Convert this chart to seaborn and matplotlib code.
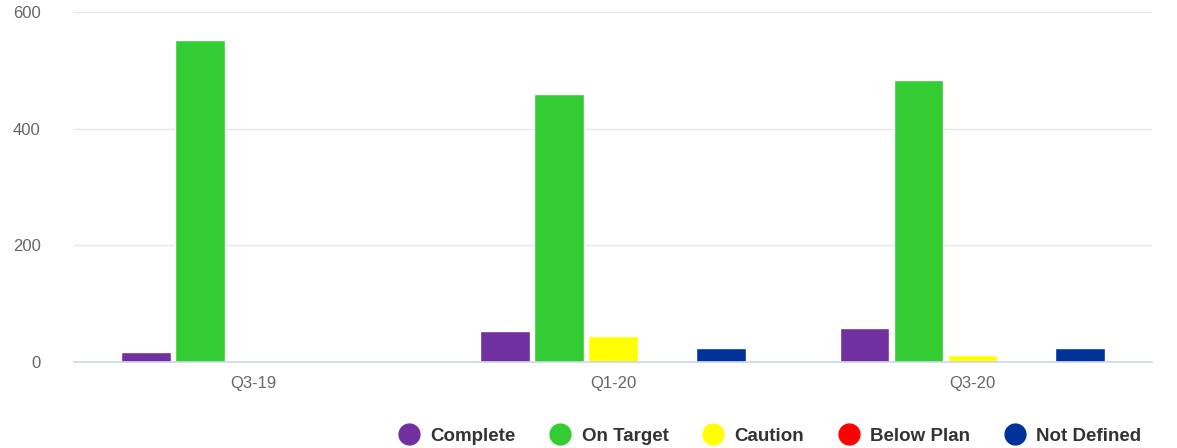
import pandas as pd
import seaborn as sns
import matplotlib.pyplot as plt

# chart values
quarters = ["Q3-19", "Q1-20", "Q3-20"]
statuses = ["Complete", "On Target", "Caution", "Below Plan", "Not Defined"]
complete = [17, 53, 58]
on_target = [552, 459, 483]
caution = [0, 45, 12]
below_plan = [0, 0, 0]
not_defined = [0, 24, 24]
colors = ["#7030a0", "#33cc33", "#ffff00", "#ff0000", "#003399"]

series = [complete, on_target, caution, below_plan, not_defined]
rows = []
for status, vals in zip(statuses, series):
    for q, v in zip(quarters, vals):
        rows.append({"quarter": q, "status": status, "value": v})
df = pd.DataFrame(rows)

sns.set_style("white")
plt.rcParams["font.family"] = ["Liberation Sans", "DejaVu Sans"]

fig = plt.figure(figsize=(11.77, 4.48), dpi=100)
ax = fig.add_axes([74 / 1177, 1 - 362 / 448, (1152 - 74) / 1177, (362 - 12) / 448])

sns.barplot(data=df, x="quarter", y="value", hue="status", hue_order=statuses,
            order=quarters, palette=colors, width=0.75, gap=0.08,
            saturation=1, ax=ax, legend=False, zorder=3)

ax.set_xlim(-0.5, 2.5)
ax.set_ylim(0, 600)
ax.set_yticks([0, 200, 400, 600])
ax.set_xlabel("")
ax.set_ylabel("")
ax.grid(axis="y", color="#e6e6e6", linewidth=1, zorder=0)
ax.set_axisbelow(True)

for side in ["top", "right", "left"]:
    ax.spines[side].set_visible(False)
ax.spines["bottom"].set_color("#ccd6eb")
ax.spines["bottom"].set_linewidth(1.2)
ax.spines["bottom"].set_zorder(4)

ax.tick_params(axis="y", length=0, pad=24, labelsize=12, labelcolor="#666666")
ax.tick_params(axis="x", which="major", length=0, pad=10, labelsize=12, labelcolor="#666666")
ax.set_xticks([-0.5, 0.5, 1.5, 2.5], minor=True)
ax.tick_params(axis="x", which="minor", length=11, color="#ccd6eb", width=1.2)

# legend with round markers
handles = [plt.Line2D([], [], marker="o", linestyle="", markersize=15,
                      markerfacecolor=c, markeredgecolor=c) for c in colors]
fig.legend(handles, statuses, loc="lower right", bbox_to_anchor=(0.984, -0.03),
           ncol=5, frameon=False, handletextpad=0.14, columnspacing=1.38,
           prop={"weight": "bold", "size": 13.5}, labelcolor="#333333")

fig.savefig("out.png", dpi=100)
